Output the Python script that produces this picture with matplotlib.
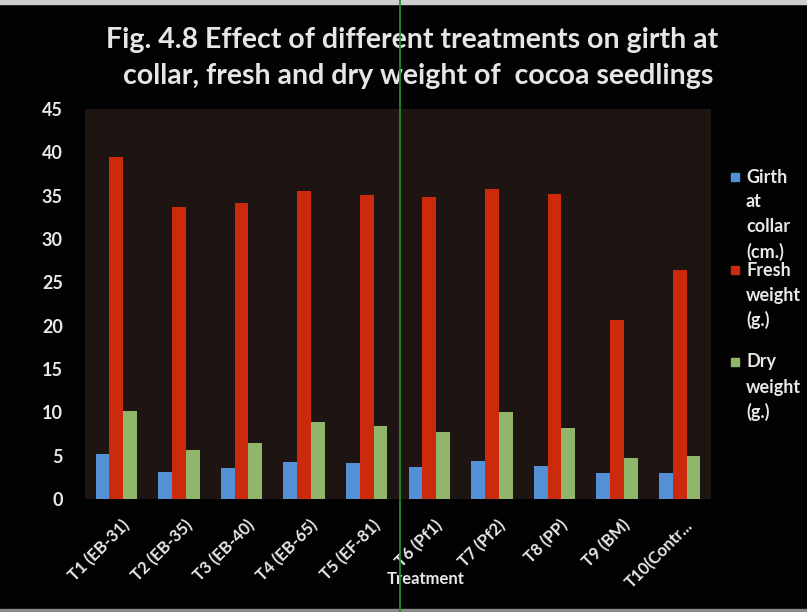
import matplotlib
matplotlib.use("Agg")
import matplotlib.pyplot as plt
import numpy as np
from matplotlib.lines import Line2D
from matplotlib.patches import Rectangle
import matplotlib.transforms as mtransforms

categories = ["T1 (EB-31)", "T2 (EB-35)", "T3 (EB-40)", "T4 (EB-65)", "T5 (EF-81)",
              "T6 (Pf1)", "T7 (Pf2)", "T8 (PP)", "T9 (BM)", "T10(Contr..."]
girth = [5.2, 3.1, 3.6, 4.3, 4.2, 3.7, 4.4, 3.8, 3.0, 3.05]
fresh = [39.5, 33.7, 34.1, 35.5, 35.1, 34.9, 35.8, 35.2, 20.6, 26.4]
dry = [10.1, 5.6, 6.45, 8.9, 8.45, 7.7, 10.05, 8.2, 4.7, 5.0]
series_names = [["Girth", "at", "collar", "(cm.)"], ["Fresh", "weight", "(g.)"], ["Dry", "weight", "(g.)"]]
yticks = [0, 5, 10, 15, 20, 25, 30, 35, 40, 45]

colors = ["#5390d6", "#cc2a0c", "#8fb66a"]
FONT = "Lato"
TXT = "#e8e8e8"

fig = plt.figure(figsize=(8.07, 6.12), dpi=100)
fig.patch.set_facecolor("#020202")

W, H = 807, 612
ax = fig.add_axes([85 / W, 1 - 499 / H, (711 - 85) / W, (499 - 109) / H])
ax.set_facecolor("#1e1513")

x = np.arange(len(categories))
bw = 0.22
for i, (vals, c) in enumerate(zip([girth, fresh, dry], colors)):
    ax.bar(x + (i - 1) * bw, vals, width=bw, color=c, zorder=3)

ax.set_xlim(-0.5, len(categories) - 0.5)
ax.set_ylim(0, 45)
ax.set_yticks(yticks)
ax.set_yticklabels([str(v) for v in yticks], fontfamily=FONT, fontweight="bold",
                   fontsize=13, color=TXT)
ax.set_xticks(x)
ax.set_xticklabels([])
ax.tick_params(axis="y", length=0, pad=16)
ax.tick_params(axis="x", length=0, pad=0)
for s in ax.spines.values():
    s.set_visible(False)

# category labels, rotated, anchored below each category
offset = mtransforms.ScaledTranslation(5 / 100, -18 / 100, fig.dpi_scale_trans)
lab_tr = ax.get_xaxis_transform() + offset
for xi, lab in zip(x, categories):
    ax.text(xi, 0, lab, transform=lab_tr, rotation=45, ha="right", va="top",
            rotation_mode="anchor", fontfamily=FONT, fontweight="bold",
            fontsize=12, color=TXT, clip_on=False)

# title
fig.text(412 / W, 1 - 40 / H, "Fig. 4.8 Effect of different treatments on girth at",
         ha="center", va="center", fontfamily=FONT, fontweight="bold", fontsize=20.5,
         color="#e6e6e6")
fig.text(418 / W, 1 - 76 / H, "collar, fresh and dry weight of  cocoa seedlings",
         ha="center", va="center", fontfamily=FONT, fontweight="bold", fontsize=20.5,
         color="#e6e6e6")

# x axis title
fig.text(426 / W, 1 - 579 / H, "Treatment", ha="center", va="center", fontfamily=FONT,
         fontweight="bold", fontsize=12, color=TXT)

# legend (wrapped entries, drawn in figure pixels)
starts = [177, 270, 362]
for lines, c, y0 in zip(series_names, colors, starts):
    fig.add_artist(Rectangle((731 / W, 1 - (y0 + 4) / H), 8 / W, 8 / H,
                             transform=fig.transFigure, color=c))
    for k, line in enumerate(lines):
        fig.text(746 / W, 1 - (y0 + k * 25) / H, line, ha="left", va="center",
                 fontfamily=FONT, fontweight="bold", fontsize=13, color=TXT)

# scan artifacts: green vertical line and light border strips
fig.add_artist(Line2D([400 / W, 400 / W], [0, 1], color="#1f8f2a", lw=1.3,
                      transform=fig.transFigure, zorder=10))
fig.add_artist(Rectangle((0, 1 - 4 / H), 1, 4 / H, transform=fig.transFigure,
                         color="#cfcfcf", zorder=0))
fig.add_artist(Rectangle((0, 0), 1, 3 / H, transform=fig.transFigure,
                         color="#8a8a8a", zorder=0))

fig.savefig("out.png", dpi=100, facecolor=fig.get_facecolor())
